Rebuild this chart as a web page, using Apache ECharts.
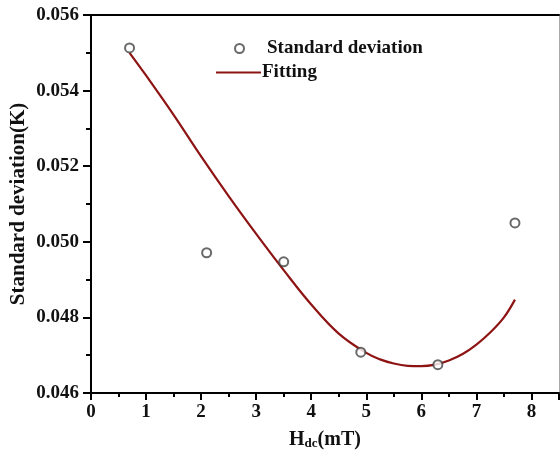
<!DOCTYPE html>
<html>
<head>
<meta charset="utf-8">
<script src="https://cdn.jsdelivr.net/npm/echarts@6/dist/echarts.min.js"></script>
<style>html,body{margin:0;padding:0;background:#fff}#c{width:560px;height:450px}</style>
</head>
<body>
<div id="c"></div>
<script>
const scatterX = [0.7, 2.1, 3.5, 4.9, 6.3, 7.7];
const scatterY = [0.05513, 0.04971, 0.04947, 0.04708, 0.04675, 0.0505];
const fitX = [0.7, 1.0, 1.5, 2.0, 2.5, 3.0, 3.5, 4.0, 4.5, 5.0, 5.25, 5.5, 5.75, 6.0, 6.25, 6.5, 6.75, 7.0, 7.25, 7.5, 7.7];
const fitY = [0.05500, 0.05440, 0.05336, 0.05226, 0.05121, 0.05021, 0.04925, 0.04834, 0.04757, 0.04706, 0.04689, 0.04678, 0.04672, 0.04671, 0.04675, 0.04686, 0.04703, 0.04728, 0.04760, 0.04800, 0.04847];
const seriesNames = ['Standard deviation', 'Fitting'];

const FONT = "'Liberation Serif','Times New Roman',serif";
const chart = echarts.init(document.getElementById('c'), null, {renderer: 'canvas'});
chart.setOption({
  animation: false,
  backgroundColor: '#fff',
  grid: {left: 91, right: 1, top: 15, bottom: 57, containLabel: false, outerBoundsMode: 'none'},
  legend: [
    {data: [seriesNames[0]], left: 229, top: 34, itemWidth: 45, itemHeight: 9,
     textStyle: {fontFamily: FONT, fontWeight: 'bold', fontSize: 19, color: '#111'}},
    {data: [{name: seriesNames[1], icon: 'rect'}], left: 211, top: 58, itemWidth: 45, itemHeight: 2,
     textStyle: {fontFamily: FONT, fontWeight: 'bold', fontSize: 19, color: '#111', padding: [0, 0, 0, -4]}}
  ],
  xAxis: [{
    type: 'value', min: 0, max: 8.5, interval: 1,
    axisLine: {onZero: false, lineStyle: {color: '#000', width: 2}},
    axisTick: {inside: false, length: 7, lineStyle: {color: '#000', width: 2}},
    minorTick: {show: true, splitNumber: 2, length: 4, lineStyle: {color: '#000', width: 2}},
    splitLine: {show: false},
    axisLabel: {margin: 10, fontFamily: FONT, fontWeight: 'bold', fontSize: 19, color: '#111',
      formatter: v => (v > 8 ? '' : String(v))},
    name: '{a|H}{s|dc}{a|(mT)}', nameLocation: 'middle', nameGap: 36, nameMoveOverlap: false,
    nameTextStyle: {rich: {
      a: {fontFamily: FONT, fontWeight: 'bold', fontSize: 20, color: '#111'},
      s: {fontFamily: FONT, fontWeight: 'bold', fontSize: 13, color: '#111', verticalAlign: 'bottom', padding: [8, 0, 0, 0]}
    }}
  }, {
    type: 'value', position: 'top', min: 0, max: 8.5,
    axisLine: {show: true, onZero: false, lineStyle: {color: '#000', width: 2}},
    axisTick: {show: false}, axisLabel: {show: false}, splitLine: {show: false}
  }],
  yAxis: [{
    type: 'value', min: 0.046, max: 0.056, interval: 0.002,
    axisLine: {show: true, onZero: false, lineStyle: {color: '#000', width: 2}},
    axisTick: {show: true, inside: false, length: 8, lineStyle: {color: '#000', width: 2}},
    minorTick: {show: true, splitNumber: 2, length: 5, lineStyle: {color: '#000', width: 2}},
    splitLine: {show: false},
    axisLabel: {margin: 12, fontFamily: FONT, fontWeight: 'bold', fontSize: 19, color: '#111',
      formatter: v => v.toFixed(3)},
    name: 'Standard deviation(K)', nameLocation: 'middle', nameGap: 62, nameMoveOverlap: false,
    nameTextStyle: {fontFamily: FONT, fontWeight: 'bold', fontSize: 21, color: '#111'}
  }, {
    type: 'value', position: 'right', min: 0.046, max: 0.056,
    axisLine: {show: true, onZero: false, lineStyle: {color: '#aaa', width: 1}},
    axisTick: {show: false}, axisLabel: {show: false}, splitLine: {show: false}
  }],
  series: [{
    name: seriesNames[0], type: 'scatter',
    symbol: 'emptyCircle', symbolSize: 9,
    itemStyle: {color: '#444', borderColor: '#444', borderWidth: 1.5},
    data: scatterX.map((x, i) => [x, scatterY[i]]), z: 3
  }, {
    name: seriesNames[1], type: 'line', smooth: 0.4, showSymbol: false, symbol: 'none',
    lineStyle: {color: '#8e1414', width: 2.2},
    itemStyle: {color: '#8e1414'},
    data: fitX.map((x, i) => [x, fitY[i]]), z: 2
  }]
});
</script>
</body>
</html>
